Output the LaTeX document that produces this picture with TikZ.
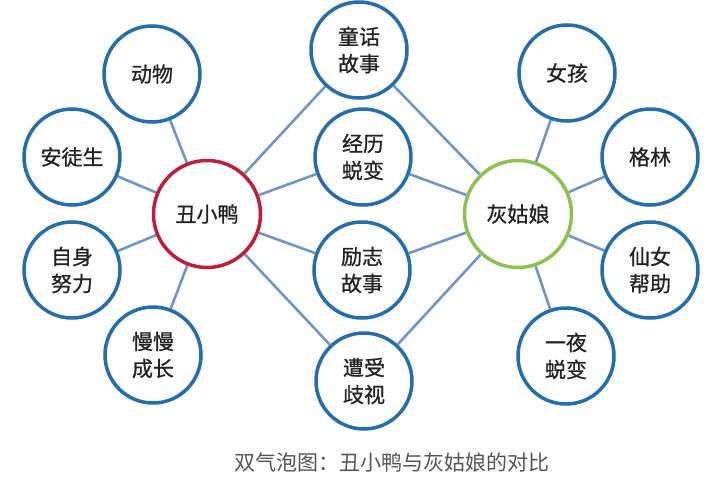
\documentclass[tikz,border=0pt]{standalone}
\usepackage{fontspec}
\usetikzlibrary{backgrounds}
\newfontfamily\cjk{Noto Sans CJK SC}
\newfontfamily\cjkm[FakeBold=0.8]{Noto Sans CJK SC}
\definecolor{ringblue}{RGB}{36,110,172}
\definecolor{linkblue}{RGB}{112,150,200}
\definecolor{ringred}{RGB}{190,30,55}
\definecolor{ringgreen}{RGB}{140,195,80}
\definecolor{txt}{RGB}{35,35,35}
\definecolor{captxt}{RGB}{85,85,85}
\tikzset{
  bubble/.style={circle, draw=ringblue, line width=3.5pt, fill=white, minimum size=96pt, inner sep=0pt,
    align=center, text=txt, font=\cjkm\fontsize{21pt}{27pt}\selectfont},
  hubred/.style={bubble, draw=ringred, minimum size=107pt},
  hubgreen/.style={bubble, draw=ringgreen, minimum size=107pt},
  link/.style={draw=linkblue, line width=2.6pt},
  captionstyle/.style={text=captxt, font=\cjk\fontsize{21pt}{25pt}\selectfont, inner sep=0pt}
}
\begin{document}
\begin{tikzpicture}[x=1pt,y=-1pt]
\useasboundingbox (0,0) rectangle (712,498);
% hubs
\node[hubred] (duck) at (207,214) {丑小鸭};
\node[hubgreen] (cind) at (518,214) {灰姑娘};
% left
\node[bubble] (dw) at (152,74) {动物};
\node[bubble] (atsh) at (72,157) {安徒生};
\node[bubble] (zsnl) at (72,270) {自身\\努力};
\node[bubble] (mmcz) at (153,355) {慢慢\\成长};
% middle
\node[bubble] (thgs) at (359,50) {童话\\故事};
\node[bubble] (jltb) at (363,157) {经历\\蜕变};
\node[bubble] (lzgs) at (362,270) {励志\\故事};
\node[bubble] (zsqs) at (364,381) {遭受\\歧视};
% right
\node[bubble] (nh) at (567,73) {女孩};
\node[bubble] (gl) at (650,157) {格林};
\node[bubble] (xnbz) at (650,270) {仙女\\帮助};
\node[bubble] (yytb) at (566,356) {一夜\\蜕变};
% caption
\node[captionstyle] (cap) at (392,462) {双气泡图：丑小鸭与灰姑娘的对比};
% connectors
\begin{scope}[on background layer]
\fill[white] (0,0) rectangle (712,498);
\foreach \a in {dw,atsh,zsnl,mmcz,thgs,jltb,lzgs,zsqs}{\draw[link] (duck) -- (\a);}
\foreach \a in {nh,gl,xnbz,yytb,thgs,jltb,lzgs,zsqs}{\draw[link] (cind) -- (\a);}
\end{scope}
\end{tikzpicture}
\end{document}
